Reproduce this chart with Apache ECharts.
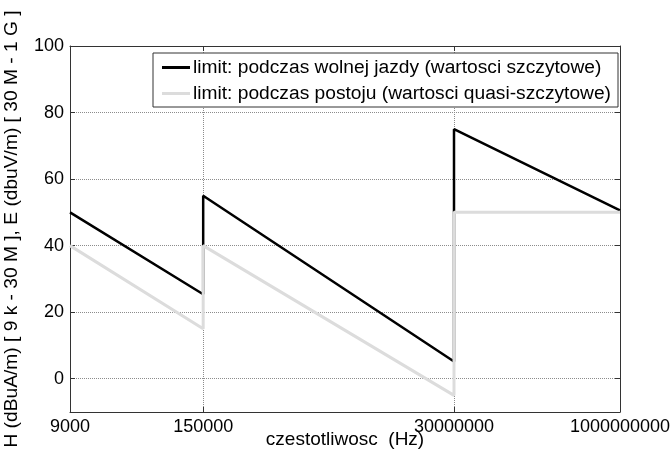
<!DOCTYPE html>
<html>
<head>
<meta charset="utf-8">
<script src="https://cdn.jsdelivr.net/npm/echarts@6/dist/echarts.min.js"></script>
<style>
  html, body { margin: 0; padding: 0; background: #fff; }
  #chart { width: 672px; height: 457px; }
</style>
</head>
<body>
<div id="chart"></div>
<script>
// Frequency break points (Hz); each limit jumps at 150 kHz and 30 MHz
const freq = [9000, 150000, 150000, 30000000, 30000000, 1000000000];
// Limit while driving slowly (peak values)
const peakLimit = [50, 25.4, 55, 5.2, 75, 50.6];
// Limit while parked (quasi-peak values)
const quasiPeakLimit = [40, 15, 40, -5, 50, 50];
// Tick positions
const xTicks = [9000, 150000, 30000000, 1000000000];
const yTicks = [0, 20, 40, 60, 80, 100];

const seriesNames = [
  'limit: podczas wolnej jazdy (wartosci szczytowe)',
  'limit: podczas postoju (wartosci quasi-szczytowe)'
];

const pairs = (ys) => freq.map((f, i) => [f, ys[i]]);

const font = 'Liberation Sans, Arial, sans-serif';
const axisColor = '#333';
const gridLine = { show: true, lineStyle: { type: 'dotted', color: '#8c8c8c', width: 1 } };

const chart = echarts.init(document.getElementById('chart'), null, { renderer: 'canvas' });

const baseX = {
  type: 'log',
  logBase: 10,
  min: 9000,
  max: 1000000000,
  axisLine: { show: true, onZero: false, lineStyle: { color: axisColor, width: 1 } },
  axisTick: { show: true, inside: true, length: 5, customValues: xTicks, lineStyle: { color: axisColor } },
  splitLine: { show: false }
};
const baseY = {
  type: 'value',
  min: -10,
  max: 100,
  axisLine: { show: true, onZero: false, lineStyle: { color: axisColor, width: 1 } },
  axisTick: { show: true, inside: true, length: 5, customValues: yTicks, lineStyle: { color: axisColor } },
  splitLine: { show: false }
};

chart.setOption({
  animation: false,
  backgroundColor: '#fff',
  textStyle: { fontFamily: font },
  grid: { left: 70, right: 52, top: 46, bottom: 45, containLabel: false, outerBoundsMode: 'none' },
  legend: {
    orient: 'vertical',
    left: 153,
    top: 53,
    padding: [5, 7, 4, 9],
    itemGap: 7,
    itemWidth: 28,
    itemHeight: 3,
    icon: 'rect',
    backgroundColor: '#fff',
    borderColor: '#333',
    borderWidth: 1,
    borderRadius: 0,
    textStyle: { fontFamily: font, fontSize: 19.2, color: '#000', padding: [0, 0, 0, -2] },
    data: seriesNames
  },
  xAxis: [
    Object.assign({}, baseX, {
      position: 'bottom',
      name: 'czestotliwosc  (Hz)',
      nameLocation: 'middle',
      nameGap: 28,
      nameMoveOverlap: false,
      nameTextStyle: { fontFamily: font, fontSize: 19, color: '#000', verticalAlign: 'middle' },
      axisLabel: {
        show: true,
        customValues: xTicks,
        margin: 6,
        fontFamily: font,
        fontSize: 18,
        color: '#000',
        formatter: (v) => String(Math.round(v))
      },
      splitLine: gridLine
    }),
    Object.assign({}, baseX, { position: 'top', axisLabel: { show: false } })
  ],
  yAxis: [
    Object.assign({}, baseY, {
      position: 'left',
      name: 'H (dBuA/m) [ 9 k - 30 M ], E (dbuV/m) [ 30 M - 1 G ]',
      nameLocation: 'middle',
      nameGap: 58,
      nameMoveOverlap: false,
      nameTextStyle: { fontFamily: font, fontSize: 19.2, color: '#000', verticalAlign: 'middle' },
      axisLabel: {
        show: true,
        customValues: yTicks,
        margin: 6,
        fontFamily: font,
        fontSize: 18,
        color: '#000'
      },
      splitLine: gridLine
    }),
    Object.assign({}, baseY, { position: 'right', axisLabel: { show: false } })
  ],
  series: [
    {
      name: seriesNames[0],
      type: 'line',
      xAxisIndex: 0,
      yAxisIndex: 0,
      data: pairs(peakLimit),
      symbol: 'none',
      color: '#000',
      lineStyle: { color: '#000', width: 2.5 },
      z: 3
    },
    {
      name: seriesNames[1],
      type: 'line',
      xAxisIndex: 0,
      yAxisIndex: 0,
      data: pairs(quasiPeakLimit),
      symbol: 'none',
      color: '#dcdcdc',
      lineStyle: { color: '#dcdcdc', width: 3 },
      z: 4
    }
  ]
});
</script>
</body>
</html>
